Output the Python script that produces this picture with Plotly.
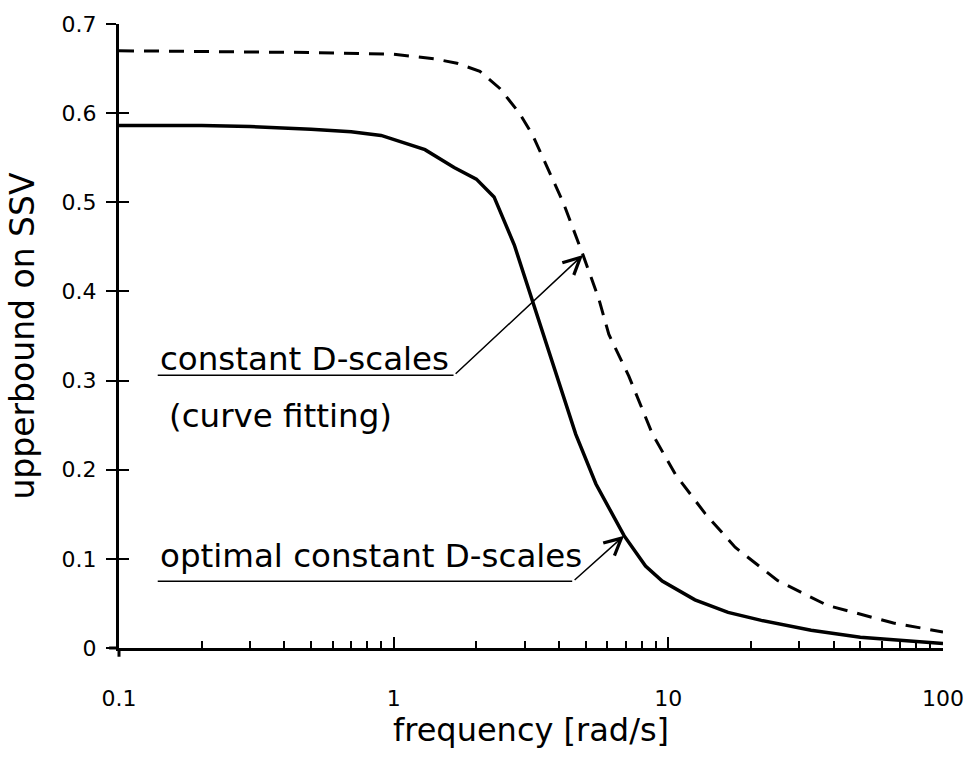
import math
import plotly.graph_objects as go

# Upper bound on the structured singular value vs. frequency
freq_optimal = [0.1, 0.2, 0.3, 0.5, 0.7, 0.9, 1.3, 1.66, 2.0, 2.32, 2.75, 3.2, 3.9,
                4.6, 5.45, 6.9, 8.26, 9.5, 12.5, 16.5, 21.8, 33.1, 50.0, 76.0, 100.0]
ssv_optimal = [0.586, 0.586, 0.585, 0.582, 0.579, 0.575, 0.559, 0.539, 0.526, 0.506,
               0.452, 0.390, 0.307, 0.240, 0.184, 0.126, 0.092, 0.075, 0.054, 0.040,
               0.031, 0.020, 0.012, 0.008, 0.005]

freq_fitting = [0.1, 0.5, 1.0, 1.4, 1.7, 2.06, 2.43, 2.87, 3.21, 3.6, 4.14, 4.89,
                5.58, 6.07, 7.18, 8.75, 10.6, 13.6, 17.5, 24.9, 37.8, 66.0, 100.0]
ssv_fitting = [0.670, 0.668, 0.666, 0.661, 0.656, 0.647, 0.628, 0.600, 0.575, 0.541,
               0.500, 0.441, 0.392, 0.352, 0.305, 0.240, 0.195, 0.151, 0.113, 0.076,
               0.048, 0.028, 0.018]

x_ticks = [0.1, 1, 10, 100]
x_tick_labels = ["0.1", "1", "10", "100"]
x_minor_ticks = [m * d for d in (0.1, 1, 10) for m in range(2, 10)]
y_ticks = [0, 0.1, 0.2, 0.3, 0.4, 0.5, 0.6, 0.7]
y_tick_labels = ["0", "0.1", "0.2", "0.3", "0.4", "0.5", "0.6", "0.7"]

FONT = "DejaVu Sans"

fig = go.Figure()
fig.add_trace(go.Scatter(x=freq_optimal, y=ssv_optimal, mode="lines",
                         line=dict(color="black", width=3.5), showlegend=False))
fig.add_trace(go.Scatter(x=freq_fitting, y=ssv_fitting, mode="lines", yaxis="y2",
                         line=dict(color="black", width=3, dash="15px,10px"),
                         showlegend=False))

fig.update_layout(
    width=976, height=769,
    margin=dict(l=119, r=25, t=21, b=121),
    paper_bgcolor="white", plot_bgcolor="white",
    font=dict(family=FONT, color="black"),
    xaxis=dict(
        type="log", range=[-1, 2], showline=True, linewidth=3, linecolor="black",
        showgrid=False, zeroline=False,
        tickvals=x_ticks, ticktext=x_tick_labels, ticks="inside", ticklen=11,
        tickwidth=2, tickcolor="black", tickfont=dict(size=22),
        ticklabelstandoff=29,
        minor=dict(tickvals=x_minor_ticks, ticks="inside", ticklen=7, tickwidth=2,
                   tickcolor="black", showgrid=False),
        title=dict(text="frequency [rad/s]", font=dict(size=32), standoff=8),
    ),
    yaxis=dict(
        range=[0, 0.7], showline=True, linewidth=3, linecolor="black",
        showgrid=False, zeroline=False,
        tickvals=y_ticks, ticktext=y_tick_labels, ticks="outside", ticklen=10,
        tickwidth=2, tickcolor="black", tickfont=dict(size=22),
        ticklabelstandoff=5,
        title=dict(text="upperbound on SSV", font=dict(size=33), standoff=18),
    ),
    yaxis2=dict(
        overlaying="y", side="left", range=[0, 0.7], showline=False,
        showgrid=False, zeroline=False, tickvals=y_ticks, ticks="inside",
        ticklen=10, tickwidth=2, tickcolor="black", showticklabels=False,
    ),
)

# Small overhang of the axis lines at the origin
fig.add_shape(type="line", xref="paper", yref="paper", x0=0, x1=0, y0=0, y1=-0.014,
              line=dict(color="black", width=3))
fig.add_shape(type="line", xref="paper", yref="paper", x0=-0.012, x1=0, y0=0, y1=0,
              line=dict(color="black", width=3))

# Callout labels with underline leaders
label_font = dict(family=FONT, size=32.5, color="black")
fig.add_annotation(text="constant D-scales", xref="paper", yref="paper", x=0.047,
                   y=0.4625, xanchor="left", yanchor="middle", showarrow=False,
                   font=label_font)
fig.add_annotation(text="(curve fitting)", xref="paper", yref="paper", x=0.058,
                   y=0.3716, xanchor="left", yanchor="middle", showarrow=False,
                   font=label_font)
fig.add_annotation(text="optimal constant D-scales", xref="paper", yref="paper",
                   x=0.047, y=0.148, xanchor="left", yanchor="middle",
                   showarrow=False, font=label_font)

fig.add_shape(type="line", xref="paper", yref="paper", x0=0.047, x1=0.406,
              y0=0.437, y1=0.437, line=dict(color="black", width=1.5))
fig.add_shape(type="line", xref="paper", yref="paper", x0=0.047, x1=0.550,
              y0=0.107, y1=0.107, line=dict(color="black", width=1.5))

fig.add_annotation(x=math.log10(4.89), y=0.441, xref="x", yref="y",
                   ax=0.2202, ay=0.306, axref="x", ayref="y", text="",
                   showarrow=True, arrowhead=5, arrowsize=2.2, arrowwidth=1.5,
                   arrowcolor="black", standoff=0)
fig.add_annotation(x=math.log10(6.9), y=0.126, xref="x", yref="y",
                   ax=0.6534, ay=0.0748, axref="x", ayref="y", text="",
                   showarrow=True, arrowhead=5, arrowsize=2.2, arrowwidth=1.5,
                   arrowcolor="black", standoff=0)

fig.write_html("out.html")
